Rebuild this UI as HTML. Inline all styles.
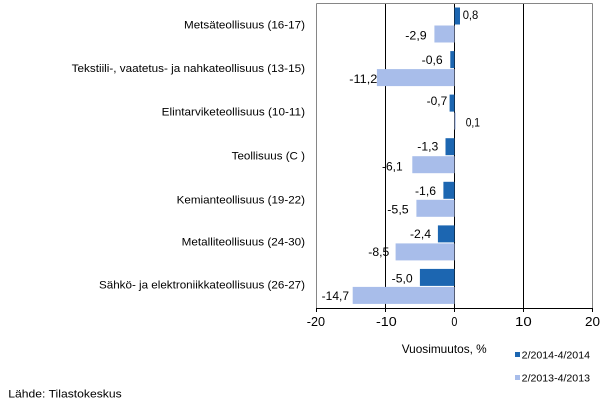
<!DOCTYPE html>
<html>
<head>
<meta charset="utf-8">
<style>
html,body{margin:0;padding:0;background:#fff;}
svg{display:block;}
text{font-family:"Liberation Sans",Arial,sans-serif;fill:#000;}
</style>
</head>
<body>
<svg width="609" height="418" viewBox="0 0 609 418" xmlns="http://www.w3.org/2000/svg">
  <rect x="0" y="0" width="609" height="418" fill="#fff"/>
  <!-- gridlines -->
  <g stroke="#000" stroke-width="1">
    <line x1="385.5" y1="3" x2="385.5" y2="308"/>
    <line x1="454.5" y1="3" x2="454.5" y2="308"/>
    <line x1="523.5" y1="3" x2="523.5" y2="308"/>
  </g>
  <!-- plot border -->
  <line x1="316.5" y1="3.5" x2="592.5" y2="3.5" stroke="#868686"/>
  <line x1="316.5" y1="3.5" x2="316.5" y2="308" stroke="#868686"/>
  <line x1="592.5" y1="3.5" x2="592.5" y2="308" stroke="#868686"/>

  <!-- bars: dark -->
  <g fill="#1c66b1">
    <rect x="454.5" y="7.5" width="5.5" height="17"/>
    <rect x="450.3" y="51.1" width="4.2" height="17"/>
    <rect x="449.6" y="94.6" width="4.9" height="17"/>
    <rect x="445.5" y="138.2" width="9" height="17"/>
    <rect x="443.4" y="181.8" width="11.1" height="17"/>
    <rect x="437.9" y="225.4" width="16.6" height="17"/>
    <rect x="419.9" y="268.9" width="34.6" height="17"/>
  </g>
  <!-- bars: light -->
  <g fill="#a8bdea">
    <rect x="434.4" y="25.5" width="20.1" height="17"/>
    <rect x="376.9" y="69.1" width="77.6" height="17"/>
    <rect x="454.5" y="112.6" width="1.2" height="17"/>
    <rect x="412.3" y="156.2" width="42.2" height="17"/>
    <rect x="416.4" y="199.8" width="38.1" height="17"/>
    <rect x="395.6" y="243.4" width="58.9" height="17"/>
    <rect x="352.7" y="286.9" width="101.8" height="17"/>
  </g>

  <!-- bottom axis -->
  <line x1="316" y1="308.5" x2="593" y2="308.5" stroke="#000"/>
  <g stroke="#000">
    <line x1="316.5" y1="308" x2="316.5" y2="312"/>
    <line x1="385.5" y1="308" x2="385.5" y2="312"/>
    <line x1="454.5" y1="308" x2="454.5" y2="312"/>
    <line x1="523.5" y1="308" x2="523.5" y2="312"/>
    <line x1="592.5" y1="308" x2="592.5" y2="312"/>
  </g>

  <!-- tick labels -->
  <g font-size="12.5">
    <text x="306.8" y="326" textLength="18.3" lengthAdjust="spacingAndGlyphs">-20</text>
    <text x="376" y="326" textLength="20.7" lengthAdjust="spacingAndGlyphs">-10</text>
    <text x="451.4" y="326" textLength="6" lengthAdjust="spacingAndGlyphs">0</text>
    <text x="515" y="326" textLength="16.7" lengthAdjust="spacingAndGlyphs">10</text>
    <text x="585" y="326" textLength="15" lengthAdjust="spacingAndGlyphs">20</text>
  </g>

  <!-- category labels -->
  <g font-size="11">
    <text x="184" y="28.7" textLength="121" lengthAdjust="spacingAndGlyphs">Metsäteollisuus (16-17)</text>
    <text x="71.7" y="72.2" textLength="233.3" lengthAdjust="spacingAndGlyphs">Tekstiili-, vaatetus- ja nahkateollisuus (13-15)</text>
    <text x="161.7" y="115.5" textLength="143.3" lengthAdjust="spacingAndGlyphs">Elintarviketeollisuus (10-11)</text>
    <text x="231.7" y="159.6" textLength="73.3" lengthAdjust="spacingAndGlyphs">Teollisuus (C )</text>
    <text x="176.7" y="203.3" textLength="128.3" lengthAdjust="spacingAndGlyphs">Kemianteollisuus (19-22)</text>
    <text x="181.7" y="245.5" textLength="123.3" lengthAdjust="spacingAndGlyphs">Metalliteollisuus (24-30)</text>
    <text x="99" y="288.5" textLength="206" lengthAdjust="spacingAndGlyphs">Sähkö- ja elektroniikkateollisuus (26-27)</text>
  </g>

  <!-- value labels -->
  <g font-size="11.5">
    <text x="462.7" y="19" textLength="15.6" lengthAdjust="spacingAndGlyphs">0,8</text>
    <text x="405.3" y="39.5" textLength="21.4" lengthAdjust="spacingAndGlyphs">-2,9</text>
    <text x="421.7" y="63.8" textLength="21" lengthAdjust="spacingAndGlyphs">-0,6</text>
    <text x="349.3" y="83" textLength="28" lengthAdjust="spacingAndGlyphs">-11,2</text>
    <text x="426.7" y="105" textLength="20.6" lengthAdjust="spacingAndGlyphs">-0,7</text>
    <text x="465.7" y="126.5" textLength="14.3" lengthAdjust="spacingAndGlyphs">0,1</text>
    <text x="417.3" y="150.5" textLength="21" lengthAdjust="spacingAndGlyphs">-1,3</text>
    <text x="382" y="170.5" textLength="20.7" lengthAdjust="spacingAndGlyphs">-6,1</text>
    <text x="415" y="194.8" textLength="21" lengthAdjust="spacingAndGlyphs">-1,6</text>
    <text x="387.3" y="213.3" textLength="21.4" lengthAdjust="spacingAndGlyphs">-5,5</text>
    <text x="410" y="238" textLength="21" lengthAdjust="spacingAndGlyphs">-2,4</text>
    <text x="368.3" y="256" textLength="21" lengthAdjust="spacingAndGlyphs">-8,5</text>
    <text x="391.7" y="282.5" textLength="21" lengthAdjust="spacingAndGlyphs">-5,0</text>
    <text x="321.7" y="300" textLength="27.3" lengthAdjust="spacingAndGlyphs">-14,7</text>
  </g>

  <!-- axis title -->
  <text x="401.7" y="353" font-size="12" textLength="85" lengthAdjust="spacingAndGlyphs">Vuosimuutos, %</text>

  <!-- legend -->
  <rect x="515" y="352" width="5" height="5" fill="#1c66b1"/>
  <text x="521.7" y="358.5" font-size="10" textLength="68.3" lengthAdjust="spacingAndGlyphs">2/2014-4/2014</text>
  <rect x="515" y="375" width="5" height="5" fill="#a8bdea"/>
  <text x="521.7" y="381.5" font-size="10" textLength="68.3" lengthAdjust="spacingAndGlyphs">2/2013-4/2013</text>

  <!-- source -->
  <text x="8.3" y="397.3" font-size="11" textLength="113.4" lengthAdjust="spacingAndGlyphs">Lähde: Tilastokeskus</text>
</svg>
</body>
</html>
